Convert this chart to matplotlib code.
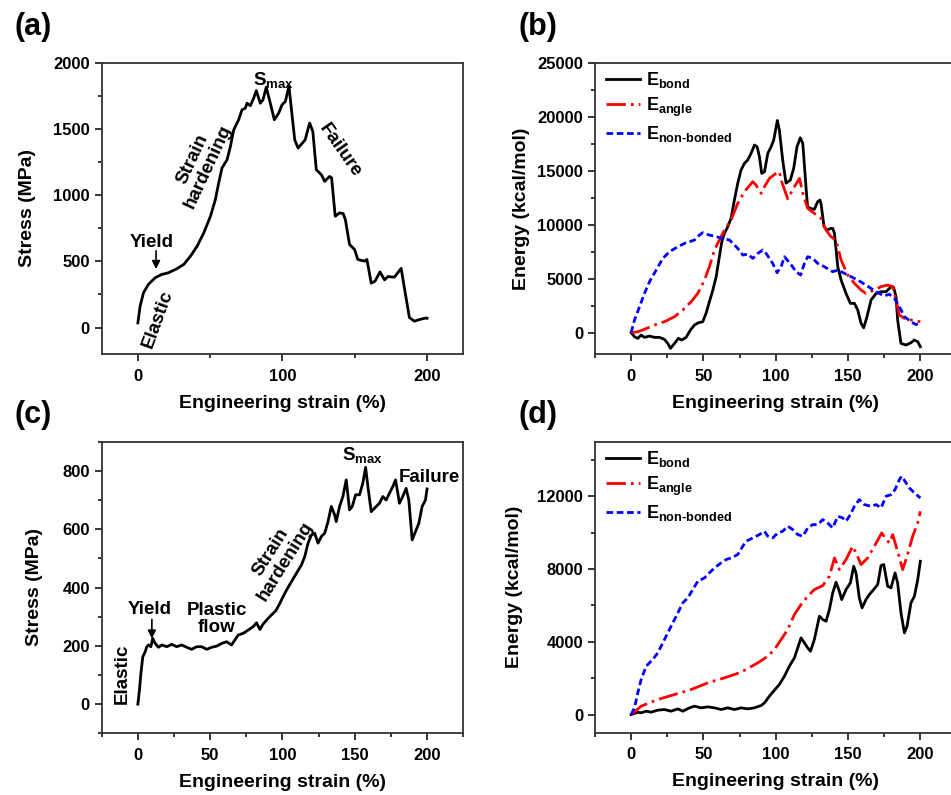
import matplotlib
matplotlib.use("Agg")
import matplotlib.pyplot as plt
from matplotlib.ticker import MultipleLocator, AutoMinorLocator

plt.rcParams['font.family'] = ['Liberation Sans', 'DejaVu Sans']
plt.rcParams['font.weight'] = 'bold'
plt.rcParams['mathtext.fontset'] = 'custom'
plt.rcParams['mathtext.rm'] = 'Liberation Sans:bold'
plt.rcParams['mathtext.it'] = 'Liberation Sans:bold'
plt.rcParams['mathtext.bf'] = 'Liberation Sans:bold'
plt.rcParams['mathtext.default'] = 'regular'

# ---------------- (a) stress-strain, system 1 ----------------
a_strain = [0, 1.6, 3.9, 7.3, 12, 16.5, 21, 27, 31.8, 36.4, 41, 45.6, 50.2, 53.6,
            55.9, 58.2, 61.7, 64, 66.3, 69.7, 72, 74.3, 75.5, 77.8, 80.1, 81.9,
            84.7, 86.5, 88.8, 91.6, 94.4, 97.4, 99.7, 102, 104.5, 106, 108.5,
            110.8, 115.7, 118.8, 121, 123.4, 126.9, 129.2, 132.6, 134, 136.5,
            139.5, 142, 143.5, 146.4, 149.9, 152.1, 156.8, 158.4, 161.4, 164,
            167.5, 170.6, 173, 177.4, 182.1, 184.3, 187.8, 191.2, 194.7, 199.3, 200]
a_stress = [35, 163, 263, 326, 376, 401, 413, 444, 477, 539, 614, 715, 840, 966,
            1092, 1205, 1267, 1367, 1493, 1569, 1644, 1656, 1694, 1675, 1732, 1789,
            1694, 1719, 1815, 1694, 1569, 1619, 1682, 1707, 1822, 1669, 1417,
            1355, 1418, 1544, 1481, 1192, 1154, 1104, 1141, 1130, 840,
            866, 860, 815, 627, 589, 514, 501, 514, 335, 350,
            420, 360, 385, 380, 447, 300, 75, 48, 60, 72, 70]

# ---------------- (b) energy components, system 1 ----------------
b_bond_strain = [0, 2.3, 4.6, 6.9, 9.2, 12.7, 16.1, 19.6, 23, 25.3, 27.2, 30, 32.7,
                 35, 38, 41, 43.8, 46.5, 49.5, 51.8, 54.1, 56.5, 58.8, 61, 62.7,
                 64.5, 66.8, 69.1, 71.4, 73.7, 76, 78.3, 80.6, 82.9, 85.3, 87.1,
                 88.7, 90.3, 92.2, 94.5, 96.8, 98.6, 101.1, 102.5, 104.8, 107.1,
                 110.1, 112.4, 114.7, 117, 118.7, 121, 122, 124, 126.7, 129, 130.5,
                 131.3, 133.4, 135.5, 138.2, 139.4, 140.6, 142.9, 145.2, 148.6,
                 151.6, 154.4, 156.7, 159, 160.8, 163.1, 165.9, 169.4, 172.8, 176.3,
                 178.6, 180.2, 181.5, 183.2, 184.3, 186.6, 190.1, 193.5, 195.8,
                 198.2, 200]
b_bond = [0, -370, -525, -216, -432, -309, -432, -432, -617, -988, -1450, -988, -525,
          -679, -432, 247, 710, 926, 1018, 1790, 2870, 3950, 5185, 7036, 8425,
          9196, 9813, 10585, 12282, 13825, 15060, 15676, 15985, 16600, 17374, 17220,
          16300, 14750, 14900, 16600, 17220, 17840, 19650, 18760, 15985, 13850,
          14133, 15214, 17220, 18050, 17528, 13360, 11667, 11510, 11418, 12128, 12280,
          11973, 9815, 9505, 9660, 9660, 9196, 6110, 4876, 3641,
          2716, 2716, 2098, 864, 450, 1481, 3024, 3641, 3796, 3796,
          4104, 4300, 4196, 3333, 1173, -988, -1142, -926, -679,
          -833, -1296]
b_angle_strain = [0, 4.6, 8, 16.1, 23, 30, 35.7, 41.5, 46.1, 50.7, 54.1, 57.6, 61,
                  64.5, 69.1, 73.7, 78.3, 84.1, 86.4, 89.9, 92.2, 95.6, 100.2, 102.5,
                  104.1, 108.3, 112.9, 116.4, 118.7, 122.1, 126.7, 131.3, 134.8,
                  138.2, 141.7, 145.2, 149.8, 154.4, 159, 162.4, 168.2, 172.8, 177.4,
                  180.9, 183.2, 185.5, 189, 193.5, 200]
b_angle = [0, 93, 250, 710, 1018, 1481, 2098, 2870, 3641, 4876, 6110, 7653, 8579,
           9505, 10431, 11973, 13054, 13980, 13671, 12900, 13516, 14288, 14750, 14906,
           13980, 12400, 13516, 14288, 12900, 11510, 11048, 10585, 9505,
           8888, 8580, 6727, 5340, 4567, 3950, 3641, 3950, 4260, 4413,
           4260, 3024, 1636, 1327, 1173, 1018]
b_nb_strain = [0, 2.3, 5.8, 9.2, 12.7, 17.3, 21.9, 26.5, 32.3, 36.9, 43.8, 47.2, 49.5,
               54.1, 58.8, 63.4, 68, 73.7, 77.2, 80.6, 84.1, 87.6, 91, 93.3, 97.9,
               100.9, 103.7, 106, 110.6, 114, 117.2, 119.8, 122.1, 125.6, 129, 133.6,
               139.4, 142.9, 147.5, 152.1, 156.7, 161.3, 165.9, 170.5, 175.1, 178.6,
               182, 185.5, 189, 193.5, 197, 200]
b_nb = [0, 1173, 2407, 3641, 4721, 5800, 6882, 7500, 7960, 8270, 8580, 9040, 9258,
        9040, 8888, 8733, 8580, 7810, 7190, 7280, 6880, 7345, 7653, 7345, 6420,
        5555, 6110, 7036, 6300, 5647, 5340, 6420, 7036, 6880, 6420, 6110,
        5647, 5800, 5493, 5185, 4876, 4500, 4100, 3700, 3410, 3560,
        3180, 2407, 1481, 1018, 750, 950]

# ---------------- (c) stress-strain, system 2 ----------------
c_strain = [0, 1.1, 2.1, 3.4, 5.1, 6.2, 7.4, 9, 10.3, 12, 14.3, 16.6, 20, 23.4, 26.9,
            30.3, 33.8, 37.2, 40.7, 44.1, 47.6, 51, 54.5, 57.9, 61.4, 64.8, 67.1,
            69.4, 72.9, 76.3, 79.8, 82.1, 84.4, 86.7, 90.1, 92.4, 95.4, 98.2, 100.5,
            102.8, 106.2, 109.7, 113.1, 115.4, 117.7, 120, 122.3, 124.6, 126.9, 129.2,
            131.5, 133.8, 136.1, 137.2, 139.5, 141.8, 144.1, 146.4, 148.3, 150.6,
            153.3, 155.6, 157.5, 159.1, 161.4, 163.7, 167.1, 169.4, 171.7, 174,
            176.3, 178.2, 179.8, 180.9, 183.2, 185.5, 187.4, 189.7, 192, 194.3,
            196.6, 198.9, 200]
c_stress = [0, 48, 105, 162, 180, 197, 203, 197, 225, 208, 195, 203, 197, 205, 197,
            203, 195, 188, 197, 197, 188, 195, 199, 208, 214, 203, 220,
            237, 243, 254, 266, 279, 256, 275, 294, 306, 320, 346, 369,
            391, 420, 449, 477, 506, 552, 580, 586, 552, 575, 586,
            626, 678, 649, 626, 678, 712, 769, 666, 678, 718,
            718, 758, 812, 746, 660, 672, 689, 712, 700, 723,
            746, 769, 723, 689, 712, 740, 700, 563, 592, 620,
            678, 700, 738]

# ---------------- (d) energy components, system 2 ----------------
d_bond_strain = [0, 2.3, 4.6, 6.9, 10.4, 13.8, 18.4, 23, 27.6, 32.3, 35.7, 40.3, 43.8,
                 48.4, 53, 57.6, 62.2, 66.8, 71.4, 76, 80.6, 85.3, 89.9, 92.2, 95.6,
                 99.1, 102.5, 106, 109.4, 112.9, 115.2, 117.5, 119.8, 122.1, 124,
                 126.7, 130.2, 132.5, 134.8, 137.1, 139.4, 141.7, 144, 145.6, 148.6,
                 151.6, 153.9, 155.5, 157.8, 159.7, 162.4, 164.7, 167.7, 170.5, 172.8,
                 174.7, 177.4, 179.7, 182.5, 184.3, 186.6, 189, 190.8, 193.5, 195.9,
                 198.2, 200]
d_bond = [0, 55, 128, 92, 183, 128, 238, 275, 183, 311, 183, 366, 458,
          366, 421, 366, 275, 366, 275, 366, 311, 366, 495, 641, 1008,
          1337, 1649, 2107, 2656, 3114, 3664, 4214, 3939, 3664, 3481,
          4122, 5404, 5221, 5130, 5771, 6687, 7273, 6778, 6320, 6870,
          7236, 8152, 7786, 6412, 5862, 6320, 6595, 6870, 7145, 8189,
          8244, 7053, 6962, 7786, 7236, 5588, 4488, 4855, 6137, 6504,
          7420, 8427]
d_angle_strain = [0, 6.9, 18.4, 30, 41.5, 53, 64.5, 76, 87.6, 94.5, 99.1, 103.7, 108.3,
                  112.9, 117.5, 122.1, 126.7, 132.5, 137.1, 140.6, 144, 148.6, 153.2,
                  155.5, 159, 163.6, 168.2, 173.3, 176.3, 178.6, 180.9, 183.9, 187.8,
                  190.8, 194.7, 198.2, 200]
d_angle = [0, 458, 824, 1099, 1374, 1740, 2015, 2327, 2840, 3206, 3572, 4122, 4672,
           5496, 6046, 6504, 6870, 7090, 7603, 8610, 7969, 8519, 9252,
           8885, 8244, 8610, 9252, 9985, 9618, 9435, 9893, 9068, 7969,
           8702, 9801, 10534, 11175]
d_nb_strain = [0, 2.3, 4.6, 6.9, 10.4, 14.9, 18.4, 21.9, 25.3, 28.8, 32.3, 35.7, 39.2,
               42.6, 46.1, 50.7, 54.1, 57.6, 62.2, 65.7, 69.1, 73.7, 77.2, 79.5, 84.1,
               88.7, 92.2, 94.5, 97.9, 101.4, 104.8, 108.3, 111.8, 115.2, 118.7,
               122.1, 125.6, 129, 132.5, 135.9, 139.4, 142.9, 146.3, 148.6, 151.6,
               154.4, 157.8, 161.3, 165.9, 169.4, 172.8, 176.3, 179.7, 182.5, 185.5,
               187.1, 189.4, 192.4, 195.9, 200]
d_nb = [0, 366, 1191, 1924, 2656, 3023, 3389, 3939, 4488, 5038, 5588, 6137, 6412,
        6870, 7328, 7511, 7786, 8061, 8336, 8519, 8610, 8794, 9252, 9526, 9710,
        9893, 10076, 9801, 9710, 9985, 10076, 10351, 10168, 9893, 9801,
        10259, 10442, 10442, 10717, 10534, 10259, 10900, 10809, 10625, 10992,
        11450, 11816, 11542, 11450, 11542, 11358, 12000, 12091, 12366, 12916,
        13099, 12824, 12457, 12183, 11908]

x_label = "Engineering strain (%)"
legend_labels = [r"$E_{bond}$", r"$E_{angle}$", r"$E_{\text{non-bonded}}$"]

W, H = 951, 795
fig = plt.figure(figsize=(W / 100, H / 100), dpi=100)

ANGLE_DASH = (7, 1.8, 1, 1.8)
NB_DASH = (2.4, 1.3)


def make_axes(left_px, top_px, bottom_px):
    width_px = 361.5
    return fig.add_axes([left_px / W, 1 - bottom_px / H,
                         width_px / W, (bottom_px - top_px) / H])


def style(ax, xlim, xmajor, ylim, ymajor, ylabel, ylab_x):
    ax.set_xlim(*xlim)
    ax.set_ylim(*ylim)
    ax.xaxis.set_major_locator(MultipleLocator(xmajor))
    ax.xaxis.set_minor_locator(AutoMinorLocator(2))
    ax.yaxis.set_major_locator(MultipleLocator(ymajor))
    ax.yaxis.set_minor_locator(AutoMinorLocator(2))
    ax.tick_params(which='both', direction='out', top=False, right=False,
                   labelsize=12, width=1.1)
    ax.tick_params(axis='x', which='both', pad=5.5)
    ax.tick_params(axis='y', which='both', pad=3.5)
    ax.tick_params(which='major', length=5)
    ax.tick_params(which='minor', length=3)
    for sp in ax.spines.values():
        sp.set_linewidth(1.3)
        sp.set_color('#333333')
    for lbl in ax.get_xticklabels() + ax.get_yticklabels():
        lbl.set_fontweight('bold')
    ax.set_xlabel(x_label, fontsize=14, fontweight='bold')
    ax.xaxis.set_label_coords(0.5, -0.140)
    ax.set_ylabel(ylabel, fontsize=14, fontweight='bold')
    ax.yaxis.set_label_coords(ylab_x, 0.5)


def energy_legend(ax):
    ax.legend(loc='upper left', bbox_to_anchor=(0.01, 1.0), frameon=False, fontsize=13,
              handlelength=1.9, handletextpad=0.3, labelspacing=0.3, borderaxespad=0.0)


ann = dict(fontsize=13.5, fontweight='bold', ha='center', va='center')

# (a)
ax_a = make_axes(101.7, 62.7, 354)
ax_a.plot(a_strain, a_stress, color='black', lw=2.0)
style(ax_a, (-25, 225), 100, (-200, 2000), 500, "Stress (MPa)", -0.181)
ax_a.text(93.5, 1870, r"$S_{max}$", **ann)
ax_a.text(9.7, 645, "Yield", **ann)
ax_a.annotate("", xy=(12.6, 420), xytext=(12.6, 600),
              arrowprops=dict(arrowstyle='-|>', color='black', lw=1.2, mutation_scale=12))
ax_a.text(13.5, 62, "Elastic", rotation=70, **ann)
ax_a.text(43, 1242, "Strain\nhardening", rotation=65, linespacing=1.0, **ann)
ax_a.text(140, 1337, "Failure", rotation=-55, **ann)
fig.text(33 / W, 1 - 27 / H, "(a)", fontsize=22, fontweight='bold', ha='center', va='center')

# (b)
ax_b = make_axes(595, 62.7, 354.3)
ax_b.plot(b_bond_strain, b_bond, color='black', lw=2.0, label=legend_labels[0])
ax_b.plot(b_angle_strain, b_angle, color='red', lw=2.0, dashes=ANGLE_DASH,
          label=legend_labels[1])
ax_b.plot(b_nb_strain, b_nb, color='blue', lw=2.0, dashes=NB_DASH,
          label=legend_labels[2])
style(ax_b, (-25, 225), 50, (-2000, 25000), 5000, "Energy (kcal/mol)", -0.179)
energy_legend(ax_b)
fig.text(538 / W, 1 - 27 / H, "(b)", fontsize=22, fontweight='bold', ha='center', va='center')

# (c)
ax_c = make_axes(101.7, 441.7, 733.3)
ax_c.plot(c_strain, c_stress, color='black', lw=2.0)
style(ax_c, (-25, 225), 50, (-100, 900), 200, "Stress (MPa)", -0.161)
ax_c.text(-11, 105, "Elastic", rotation=90, **ann)
ax_c.text(8, 325, "Yield", **ann)
ax_c.annotate("", xy=(9.7, 215), xytext=(9.7, 300),
              arrowprops=dict(arrowstyle='-|>', color='black', lw=1.2, mutation_scale=12))
ax_c.text(54.5, 291, "Plastic\nflow", linespacing=1.0, **ann)
ax_c.text(97, 506, "Strain\nhardening", rotation=58, linespacing=1.0, **ann)
ax_c.text(155.6, 855, r"$S_{max}$", **ann)
ax_c.text(201.6, 778, "Failure", **ann)
fig.text(33 / W, 1 - 415 / H, "(c)", fontsize=22, fontweight='bold', ha='center', va='center')

# (d)
ax_d = make_axes(595, 441.7, 732.7)
ax_d.plot(d_bond_strain, d_bond, color='black', lw=2.0, label=legend_labels[0])
ax_d.plot(d_angle_strain, d_angle, color='red', lw=2.0, dashes=ANGLE_DASH,
          label=legend_labels[1])
ax_d.plot(d_nb_strain, d_nb, color='blue', lw=2.0, dashes=NB_DASH,
          label=legend_labels[2])
style(ax_d, (-25, 225), 50, (-1000, 15000), 4000, "Energy (kcal/mol)", -0.198)
energy_legend(ax_d)
fig.text(538 / W, 1 - 415 / H, "(d)", fontsize=22, fontweight='bold', ha='center', va='center')

fig.savefig("out.png", dpi=100)
